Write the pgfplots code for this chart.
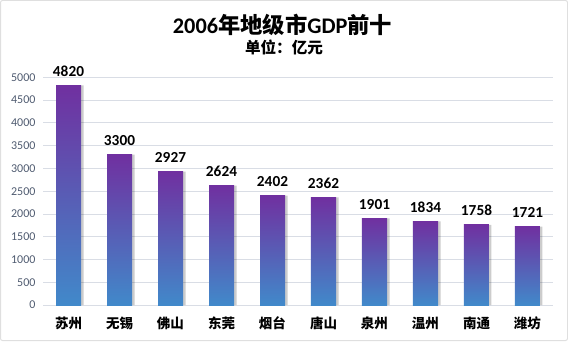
\documentclass[border=0pt]{standalone}
\usepackage{fontspec}
\setmainfont{Carlito}
\newfontfamily\cjk{Noto Sans CJK SC}
\usepackage{pgfplots}
\pgfplotsset{compat=1.18}
\definecolor{topc}{HTML}{7030A0}
\definecolor{botc}{HTML}{4189CA}
\definecolor{gridc}{HTML}{D9DDE5}
\definecolor{tickc}{HTML}{4F5B70}
\pgfplotsset{gbar/.style={draw=none, top color=topc, bottom color=botc, bar shift=0pt,
  nodes near coords,
  nodes near coords style={font=\bfseries\fontsize{15.3}{17}\selectfont, text=black, yshift=5.5pt}}}
\begin{document}
\begin{tikzpicture}
\path[use as bounding box] (0pt,0pt) rectangle (568pt,341pt);
\draw[draw=gray!25, line width=1pt, rounded corners=2pt] (0.5pt,0.5pt) rectangle (567.5pt,340.5pt);
\node[font=\fontsize{22.3}{25}\selectfont] at (282.5pt,316pt) {{\bfseries 2006}{\cjk\bfseries 年地级市}{\bfseries GDP}{\cjk\bfseries 前十}};
\node[font=\cjk\bfseries\fontsize{15.6}{18}\selectfont] at (284pt,293.5pt) {单位：亿元};
\begin{axis}[
  at={(43pt,36pt)}, anchor=south west, scale only axis,
  width=510pt, height=227.7pt,
  xmin=-0.5, xmax=9.5, ymin=0, ymax=5000,
  ytick={0,500,...,5000},
  xtick={0,...,9},
  xticklabels={苏州,无锡,佛山,东莞,烟台,唐山,泉州,温州,南通,潍坊},
  xticklabel style={font=\cjk\bfseries\fontsize{13.5}{15}\selectfont, anchor=center, yshift=-18pt},
  yticklabel style={font=\fontsize{12}{14}\selectfont, text=tickc, xshift=-4pt},
  /pgf/number format/assume math mode=true,
  /pgf/number format/1000 sep={},
  axis line style={draw=none},
  major tick length=0pt,
  ymajorgrids, grid style={gridc, line width=0.8pt},
  clip=false,
  ybar, bar width=25pt,
]
\addplot[fill=black, opacity=0.2, draw=none, bar shift=2.5pt] coordinates {(0,4820) (1,3300) (2,2927) (3,2624) (4,2402) (5,2362) (6,1901) (7,1834) (8,1758) (9,1721)};
\addplot[gbar] coordinates {(0,4820)};
\addplot[gbar] coordinates {(1,3300)};
\addplot[gbar] coordinates {(2,2927)};
\addplot[gbar] coordinates {(3,2624)};
\addplot[gbar] coordinates {(4,2402)};
\addplot[gbar] coordinates {(5,2362)};
\addplot[gbar] coordinates {(6,1901)};
\addplot[gbar] coordinates {(7,1834)};
\addplot[gbar] coordinates {(8,1758)};
\addplot[gbar] coordinates {(9,1721)};
\end{axis}
\end{tikzpicture}
\end{document}
